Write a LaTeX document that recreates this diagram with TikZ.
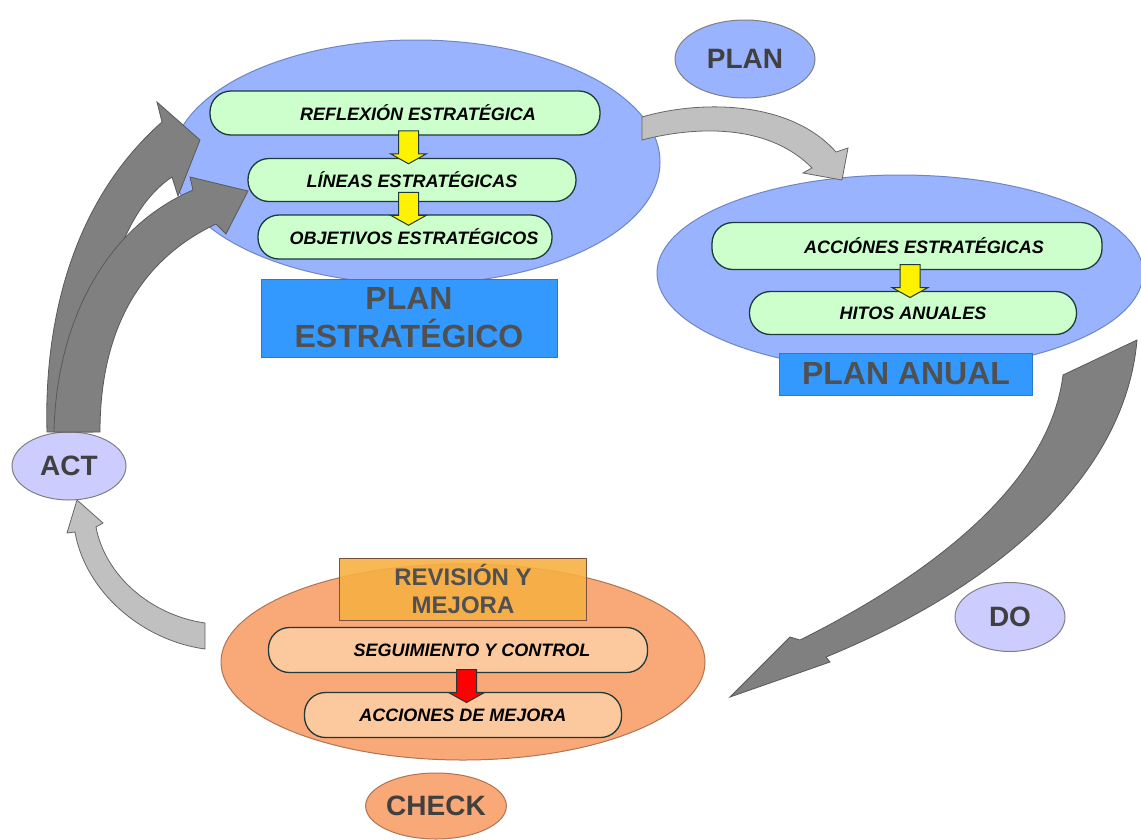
\documentclass[tikz,border=0pt]{standalone}
\usepackage{fontspec}
\setmainfont{Liberation Sans}
\usetikzlibrary{shapes.geometric,calc}

\definecolor{azulel}{HTML}{99B3FF}
\definecolor{azulborde}{HTML}{6F86C6}
\definecolor{verdecaja}{HTML}{CCFFCC}
\definecolor{bordeosc}{HTML}{1E3A3A}
\definecolor{azultit}{HTML}{3399FF}
\definecolor{grisletra}{HTML}{505050}
\definecolor{lila}{HTML}{CCCCFF}
\definecolor{naranjael}{HTML}{F9A878}
\definecolor{naranjaborde}{HTML}{B07454}
\definecolor{naranjacaja}{HTML}{FCC99E}
\definecolor{naranjatit}{HTML}{F6B043}
\definecolor{grisosc}{HTML}{808080}
\definecolor{grisclaro}{HTML}{C0C0C0}

\begin{document}
\begin{tikzpicture}[x=1pt,y=-1pt,
  elipse/.style={ellipse,draw=azulborde,line width=1pt,fill=azulel,inner sep=0pt},
  caja/.style={draw=bordeosc,line width=1.3pt,fill=verdecaja,rounded corners=21pt,
    font=\fontsize{18}{21}\selectfont\bfseries\itshape,minimum height=44pt,inner sep=0pt},
  titulo/.style={fill=azultit,draw=azultit!80!black,line width=0.6pt,text=grisletra,
    font=\fontsize{32}{38}\selectfont\bfseries,align=center,inner sep=0pt},
  etapa/.style={ellipse,draw=gray,line width=1pt,inner sep=0pt,text=grisletra!80!black,
    font=\fontsize{28}{30}\selectfont\bfseries},
  flechaosc/.style={fill=grisosc,draw=gray!70!black,line width=0.8pt},
  flechaclara/.style={fill=grisclaro,draw=gray!80!black,line width=0.8pt},
  flecha/.pic={\draw[pic actions,line width=1pt] (-10,-16) -- (10,-16) -- (10,7) -- (18,7)
    -- (0,17) -- (-18,7) -- (-10,7) -- cycle;}]
\useasboundingbox (0,0) rectangle (1141,839);

% PLAN ESTRATEGICO
\node[elipse,minimum width=488pt,minimum height=244pt] (estrat) at (416,162) {};
\node[caja,minimum width=390pt] (refl) at (405,113) {\hspace*{26pt}REFLEXIÓN ESTRATÉGICA};
\node[caja,minimum width=328pt,minimum height=43pt] (lineas) at (412,180) {LÍNEAS ESTRATÉGICAS};
\node[caja,minimum width=294pt] (objet) at (405,237) {\hspace*{18pt}\raisebox{-6pt}{OBJETIVOS ESTRATÉGICOS}};
\node[titulo,minimum width=296pt,minimum height=78pt] (pest) at (409,318) {PLAN\\ESTRATÉGICO};
\pic[fill=yellow,draw=bordeosc] at ($(refl.south)!0.5!(lineas.north)$) {flecha};
\pic[fill=yellow,draw=bordeosc] at ($(lineas.south)!0.5!(objet.north)$) {flecha};

% PLAN ANUAL
\node[elipse,minimum width=486pt,minimum height=196pt] (anual) at (900,273) {};
\node[caja,minimum width=390pt,minimum height=47pt] (acc) at (907,246) {\hspace*{34pt}ACCIÓNES ESTRATÉGICAS};
\node[caja,minimum width=327pt,minimum height=43pt] (hitos) at (913,313) {HITOS ANUALES};
\node[titulo,minimum width=253pt,minimum height=42pt] (panual) at (906,374) {PLAN ANUAL};
\pic[fill=yellow,draw=bordeosc] at ($(acc.south)!0.5!(hitos.north)$) {flecha};

% REVISION Y MEJORA
\node[elipse,draw=naranjaborde,fill=naranjael,minimum width=484pt,minimum height=196pt] (revis) at (463,662) {};
\node[fill=naranjatit,fill opacity=0.9,text opacity=1,draw=naranjaborde!70!black,line width=0.8pt,
  text=grisletra,font=\fontsize{24}{28}\selectfont\bfseries,align=center,
  minimum width=247pt,minimum height=62pt,inner sep=0pt] (rvtit) at (463,589) {REVISIÓN Y\\MEJORA};
\node[caja,fill=naranjacaja,minimum width=379pt,minimum height=45pt] (segu) at (458,650) {\hspace*{28pt}SEGUIMIENTO Y CONTROL};
\node[caja,fill=naranjacaja,minimum width=317pt,minimum height=45pt] (accm) at (463,715) {ACCIONES DE MEJORA};
\pic[fill=red,draw=bordeosc] at ($(segu.south)!0.5!(accm.north)+(6,3)$) {flecha};

% etapas
\node[etapa,fill=azulel,minimum width=140pt,minimum height=78pt] (plan) at (745,59) {PLAN};
\node[etapa,fill=lila,minimum width=110pt,minimum height=69pt] (do) at (1010,617) {DO};
\node[etapa,fill=naranjael,draw=naranjaborde,minimum width=128pt,minimum height=66pt] (check) at (436,806) {CHECK};
\node[etapa,fill=lila,minimum width=114pt,minimum height=68pt] (act) at (69,466) {ACT};

% flechas grandes
\draw[flechaosc] (47,432) .. controls (44,330) and (68,205) .. (162,122) -- (157,102) -- (200,140)
  -- (178,196) -- (172,177) .. controls (115,215) and (92,320) .. (93,432) -- cycle;
\draw[flechaosc] (54,432) .. controls (56,330) and (100,230) .. (193,190) -- (190,177) -- (248,191)
  -- (226,234) -- (216,224) .. controls (140,260) and (100,330) .. (100,432) -- cycle;
\draw[flechaclara] (205,649) .. controls (140,640) and (85,590) .. (75,532) -- (67,533) -- (77,500)
  -- (103,523) -- (96,527) .. controls (105,575) and (150,615) .. (205,623) -- cycle;
\draw[flechaclara] (642,117) .. controls (700,100) and (790,100) .. (836,152) -- (848,148) -- (842,180)
  -- (803,173) -- (812,168) .. controls (770,125) and (700,125) .. (642,140) -- cycle;
\draw[flechaosc] (1063,375) -- (1137,340) .. controls (1125,480) and (990,590) .. (826,657) -- (830,662)
  -- (730,697) -- (790,637) -- (800,640) .. controls (940,570) and (1050,480) .. (1063,375) -- cycle;

\end{tikzpicture}
\end{document}
